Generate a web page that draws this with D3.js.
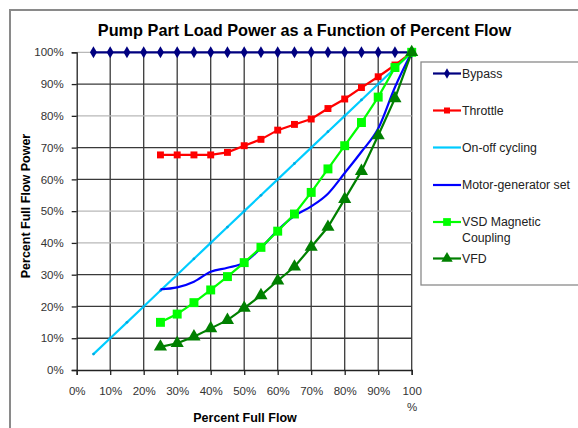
<!DOCTYPE html>
<html><head><meta charset="utf-8">
<script src="https://cdn.jsdelivr.net/npm/d3@7"></script>
<style>
html,body{margin:0;padding:0;background:#fff;}
svg{display:block;font-family:"Liberation Sans",Arial,sans-serif;}
</style></head>
<body><svg id="c" width="578" height="428"></svg>
<script>
// ---- data ----
const flowAll = [5,10,15,20,25,30,35,40,45,50,55,60,65,70,75,80,85,90,95,100];
const flowPart = [25,30,35,40,45,50,55,60,65,70,75,80,85,90,95,100];
const bypass = [100,100,100,100,100,100,100,100,100,100,100,100,100,100,100,100,100,100,100,100];
const onOff = [5,10,15,20,25,30,35,40,45,50,55,60,65,70,75,80,85,90,95,100];
const throttle = [67.7,67.7,67.7,67.7,68.5,70.6,72.6,75.5,77.3,79.0,82.3,85.3,88.9,92.3,96.0,100];
const motorGen = [25.4,26.0,27.8,30.9,32.2,33.8,38.4,44.0,48.5,51.5,55.5,62.0,68.7,76.0,89.0,100];
const vsd = [15.0,17.6,21.2,25.2,29.4,33.8,38.6,43.7,49.1,55.9,63.3,70.6,77.9,85.9,95.2,100];
const vfd = [7.3,8.4,10.5,13.1,15.7,19.5,23.5,28.1,32.5,38.7,45.0,53.8,62.6,73.8,85.5,100];
const xTickVals = [0,10,20,30,40,50,60,70,80,90,100];
const xTickLabels = ["0%","10%","20%","30%","40%","50%","60%","70%","80%","90%","100|%"];
const yTickVals = [0,10,20,30,40,50,60,70,80,90,100];
const yTickLabels = ["0%","10%","20%","30%","40%","50%","60%","70%","80%","90%","100%"];
const seriesNames = ["Bypass","Throttle","On-off cycling","Motor-generator set","VSD Magnetic|Coupling","VFD"];

const svg = d3.select("#c");
const x = d3.scaleLinear().domain([0,100]).range([76.7,411.7]);
const y = d3.scaleLinear().domain([0,100]).range([370,52.3]);

// outer border
svg.append("rect").attr("x",10).attr("y",10).attr("width",600).attr("height",440)
  .attr("fill","none").attr("stroke","#8a8a8a").attr("stroke-width",2);

// title
const title = svg.append("text").attr("x",304.5).attr("y",36).attr("text-anchor","middle")
  .attr("font-size",16.3).attr("font-weight","bold").attr("fill","#000")
  .text("Pump Part Load Power as a Function of Percent Flow");

// gridlines
const grayH = new Set([100,80,50,40]);
svg.append("g").selectAll("line").data(xTickVals.filter(d=>d>0)).join("line")
  .attr("x1",d=>x(d)).attr("x2",d=>x(d)).attr("y1",y(100)).attr("y2",y(0))
  .attr("stroke","#3a3a3a").attr("stroke-width",1.3);
svg.append("g").selectAll("line").data(yTickVals.filter(d=>d>0)).join("line")
  .attr("x1",x(0)).attr("x2",x(100)).attr("y1",d=>y(d)).attr("y2",d=>y(d))
  .attr("stroke",d=>grayH.has(d)?"#b8b8b8":"#3a3a3a").attr("stroke-width",1.3);

// axes
const yAxis = d3.axisLeft(y).tickValues(yTickVals).tickSize(5).tickPadding(8)
  .tickFormat((d,i)=>yTickLabels[i]);
const gy = svg.append("g").attr("transform",`translate(${x(0)},0)`).call(yAxis);
const xAxis = d3.axisBottom(x).tickValues(xTickVals).tickSize(5).tickPadding(9)
  .tickFormat(()=> "");
const gx = svg.append("g").attr("transform",`translate(0,${y(0)})`).call(xAxis);
[gx,gy].forEach(g=>{
  g.select(".domain").attr("stroke","#222").attr("stroke-width",1.3);
  g.selectAll(".tick line").attr("stroke","#222").attr("stroke-width",1.3);
  g.selectAll("text").attr("font-size",11.5).attr("fill","#333")
    .attr("font-family","'Liberation Sans',Arial,sans-serif");
});
gx.selectAll(".tick").each(function(d,i){
  const parts = xTickLabels[i].split("|");
  const t = d3.select(this).select("text").attr("y",null).attr("dy",null);
  parts.forEach((p,j)=>{
    t.append("tspan").attr("x",0).attr("y",25 + j*16).text(p);
  });
});

// axis titles
svg.append("text").attr("x",245).attr("y",422).attr("text-anchor","middle")
  .attr("font-size",12.5).attr("font-weight","bold").text("Percent Full Flow");
svg.append("text").attr("transform","translate(30,206) rotate(-90)").attr("text-anchor","middle")
  .attr("font-size",12.5).attr("font-weight","bold").text("Percent Full Flow Power");

// series
const lineL = d3.line().x(d=>x(d[0])).y(d=>y(d[1]));
const lineS = d3.line().x(d=>x(d[0])).y(d=>y(d[1])).curve(d3.curveMonotoneX);
const zip = (a,b)=>a.map((v,i)=>[v,b[i]]);

const series = [
  {name:seriesNames[0], pts:zip(flowAll,bypass), color:"#000080", marker:"diamond", size:42, curve:lineL},
  {name:seriesNames[1], pts:zip(flowPart,throttle), color:"#ff0000", marker:"square", size:48, curve:lineL},
  {name:seriesNames[2], pts:zip(flowAll,onOff), color:"#00ccff", marker:"dot", size:6, curve:lineL},
  {name:seriesNames[3], pts:zip(flowPart,motorGen), color:"#0000ff", marker:null, size:0, curve:lineS},
  {name:seriesNames[4], pts:zip(flowPart,vsd), color:"#00ff00", marker:"square", size:80, curve:lineL},
  {name:seriesNames[5], pts:zip(flowPart,vfd), color:"#008000", marker:"triangle", size:75, curve:lineL},
];
const symType = {diamond:d3.symbolDiamond, square:d3.symbolSquare, triangle:d3.symbolTriangle, dot:d3.symbolCircle};

series.forEach(s=>{
  svg.append("path").attr("d",s.curve(s.pts)).attr("fill","none")
    .attr("stroke",s.color).attr("stroke-width",2.2);
  if(s.marker){
    const sym = d3.symbol().type(symType[s.marker]).size(s.size);
    svg.append("g").selectAll("path").data(s.pts).join("path")
      .attr("transform",d=>`translate(${x(d[0])},${y(d[1])})`)
      .attr("d",sym).attr("fill",s.marker==="dot"?"#00a8e0":s.color);
  }
});

// legend
svg.append("rect").attr("x",421).attr("y",62).attr("width",200).attr("height",223)
  .attr("fill","#fff").attr("stroke","#8a8a8a").attr("stroke-width",1.3);
const legY = [73.5,110.5,147.5,185,222,258.5];
series.forEach((s,i)=>{
  const g = svg.append("g").attr("transform",`translate(0,${legY[i]})`);
  g.append("line").attr("x1",433).attr("x2",461).attr("stroke",s.color).attr("stroke-width",2.2);
  if(s.marker && s.marker!=="dot"){
    g.append("path").attr("transform","translate(447,0)")
      .attr("d",d3.symbol().type(symType[s.marker]).size(s.size*0.75)).attr("fill",s.color);
  }
  const t = g.append("text").attr("font-size",12.3).attr("fill","#222");
  s.name.split("|").forEach((p,j)=>{
    t.append("tspan").attr("x",462).attr("y",4.3 + j*16).text(p);
  });
});
</script></body></html>
